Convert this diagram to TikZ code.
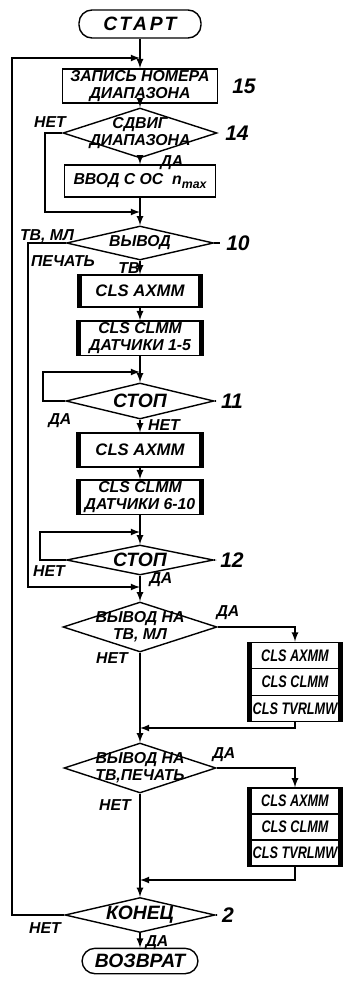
\documentclass[tikz,border=0pt]{standalone}
\usepackage{fontspec}
\usepackage{graphicx}
\setmainfont{Liberation Sans}
\usetikzlibrary{shapes.geometric,positioning}
\newcommand{\narrowtxt}[1]{\scalebox{0.76}[1]{#1}}

\begin{document}
\begin{tikzpicture}[x=0.02cm, y=-0.02cm, line width=0.8pt, >=latex,
    txt/.style={font=\fontsize{9}{9.5}\selectfont\bfseries\itshape},
    big/.style={font=\fontsize{11}{11}\selectfont\bfseries\itshape},
    num/.style={font=\fontsize{12}{12}\selectfont\bfseries\itshape},
    term/.style={draw, rounded corners=0.26cm, big},
    box/.style={draw, align=center, inner sep=1pt, txt},
    proc/.style={box, font=\fontsize{9.5}{9.5}\selectfont\bfseries\itshape,
        path picture={
            \fill (path picture bounding box.south west) rectangle ([xshift=2.8pt]path picture bounding box.north west);
            \fill ([xshift=-2.8pt]path picture bounding box.south east) rectangle (path picture bounding box.north east);}},
    cell/.style={proc, inner sep=0.5pt, minimum width=1.9cm, font=\fontsize{9.5}{9.5}\selectfont\bfseries\itshape},
    dec/.style={draw, diamond, inner sep=0pt}]
    \useasboundingbox (0,0) rectangle (346,981);
    % main column
    \node[term, minimum width=2.44cm, minimum height=0.56cm] (start) at (140,24) {\addfontfeature{LetterSpace=14}СТАРТ};
    \node[box, minimum width=3.1cm, minimum height=0.62cm] (rec15) at (140,86) {ЗАПИСЬ НОМЕРА\\ДИАПАЗОНА};
    \node[dec, minimum width=3.08cm, minimum height=1cm] (d14) at (140,133) {};
    \node[txt, align=center] (t14) at (d14) {СДВИГ\\ДИАПАЗОНА};
    \node[box, minimum width=3.02cm, minimum height=0.64cm] (nmax) at (140,181) {ВВОД С ОС \;n\raisebox{-0.4ex}{\scriptsize max}};
    \node[dec, minimum width=2.94cm, minimum height=0.68cm] (d10) at (140,243) {};
    \node[txt] (t10) at (d10) {ВЫВОД};
    \node[proc, minimum width=2.5cm, minimum height=0.64cm] (b1) at (140,291) {CLS AXMM};
    \node[proc, minimum width=2.54cm, minimum height=0.66cm, txt] (b2) at (140,338) {CLS CLMM\\ДАТЧИКИ 1-5};
    \node[dec, minimum width=2.96cm, minimum height=0.72cm] (d11) at (140,401) {};
    \node[big] (t11) at (d11) {СТОП};
    \node[proc, minimum width=2.54cm, minimum height=0.68cm] (b3) at (140,450) {CLS AXMM};
    \node[proc, minimum width=2.54cm, minimum height=0.64cm, txt] (b4) at (140,497) {CLS CLMM\\ДАТЧИКИ 6-10};
    \node[dec, minimum width=2.94cm, minimum height=0.6cm] (d12) at (140,560) {};
    \node[big] (t12) at (d12) {СТОП};
    \node[dec, minimum width=3.08cm, minimum height=1cm] (d13) at (140,627) {};
    \node[txt, align=center] (t13) at (d13) {ВЫВОД НА\\ТВ, МЛ};
    \node[dec, minimum width=3.04cm, minimum height=1cm] (d15) at (140,768) {};
    \node[txt, align=center] (t15) at (d15) {ВЫВОД НА\\ТВ,ПЕЧАТЬ};
    \node[dec, minimum width=3cm, minimum height=0.7cm] (d2) at (140,915) {};
    \node[big] (t2) at (d2) {КОНЕЦ};
    \node[term, minimum width=2.32cm, minimum height=0.5cm] (ret) at (140,961) {ВОЗВРАТ};
    % output stacks
    \node[cell, minimum height=0.53cm] (s1a) at (295,655.5) {\narrowtxt{CLS AXMM}};
    \node[cell, minimum height=0.53cm] (s1b) at (295,682) {\narrowtxt{CLS CLMM}};
    \node[cell, minimum height=0.53cm] (s1c) at (295,708.5) {\narrowtxt{CLS TVRLMW}};
    \node[cell, minimum height=0.52cm] (s2a) at (295,801) {\narrowtxt{CLS AXMM}};
    \node[cell, minimum height=0.52cm] (s2b) at (295,827) {\narrowtxt{CLS CLMM}};
    \node[cell, minimum height=0.52cm] (s2c) at (295,853) {\narrowtxt{CLS TVRLMW}};
    % block numbers
    \node[num] (n15) at (244,86) {15};
    \node[num] (n14) at (237,133) {14};
    \node[num] (n10) at (238,243) {10};
    \node[num] (n11) at (232,401) {11};
    \node[num] (n12) at (232,560) {12};
    \node[num] (n2) at (228,915) {2};
    \draw (d10.east) -- (n10.west);
    \draw (d11.east) -- (n11.west);
    \draw (d12.east) -- (n12.west);
    \draw (d2.east) -- (n2.west);
    % joins and corners
    \coordinate (j15) at (140,58);
    \coordinate (j10) at (140,212);
    \coordinate (j11) at (140,372);
    \coordinate (j12) at (140,532);
    \coordinate (j13) at (140,587);
    \coordinate (r1) at (140,728);
    \coordinate (r2) at (140,880);
    \coordinate (x14) at (45,212);
    \coordinate (x10) at (28,587);
    \coordinate (x11) at (43,372);
    \coordinate (x12) at (40,532);
    \coordinate (xo) at (12,58);
    % connectors
    \draw[->] (start) -- (rec15);
    \draw[->] (rec15) -- (d14);
    \draw[->] (d14) -- (nmax);
    \draw[->] (nmax) -- (d10);
    \draw[->] (d10) -- (b1);
    \draw[->] (b1) -- (b2);
    \draw[->] (b2) -- (d11);
    \draw[->] (d11) -- (b3);
    \draw[->] (b3) -- (b4);
    \draw[->] (b4) -- (d12);
    \draw[->] (d12) -- (d13);
    \draw[->] (d13) -- (d15);
    \draw[->] (d15) -- (d2);
    \draw[->] (d2) -- (ret);
    \draw[->] (d14.west) -| (x14) -- (j10);
    \draw[->] (d10.west) -| (x10) -- (j13);
    \draw[->] (d11.west) -| (x11) -- (j11);
    \draw[->] (d12.west) -| (x12) -- (j12);
    \draw[->] (d2.west) -| (xo) -- (j15);
    \draw[->] (d13.east) -| (s1a.north);
    \draw[->] (d15.east) -| (s2a.north);
    \draw[->] (s1c.south) |- (r1);
    \draw[->] (s2c.south) |- (r2);
    % branch labels
    \node[txt] (l14n) at (50,122) {НЕТ};
    \node[txt] (l14d) at (172,163) {ДА};
    \node[txt] (l10a) at (47,236) {ТВ, МЛ};
    \node[txt] (l10b) at (63,261) {ПЕЧАТЬ};
    \node[txt] (l10c) at (129,268) {ТВ};
    \node[txt] (l11d) at (60,421) {ДА};
    \node[txt] (l11n) at (164,425) {НЕТ};
    \node[txt] (l12n) at (49,571) {НЕТ};
    \node[txt] (l12d) at (161,580) {ДА};
    \node[txt] (l13d) at (228,613) {ДА};
    \node[txt] (l13n) at (112,658) {НЕТ};
    \node[txt] (l15d) at (224,755) {ДА};
    \node[txt] (l15n) at (115,805) {НЕТ};
    \node[txt] (l2n) at (45,928) {НЕТ};
    \node[txt] (l2d) at (157,943) {ДА};
\end{tikzpicture}
\end{document}
